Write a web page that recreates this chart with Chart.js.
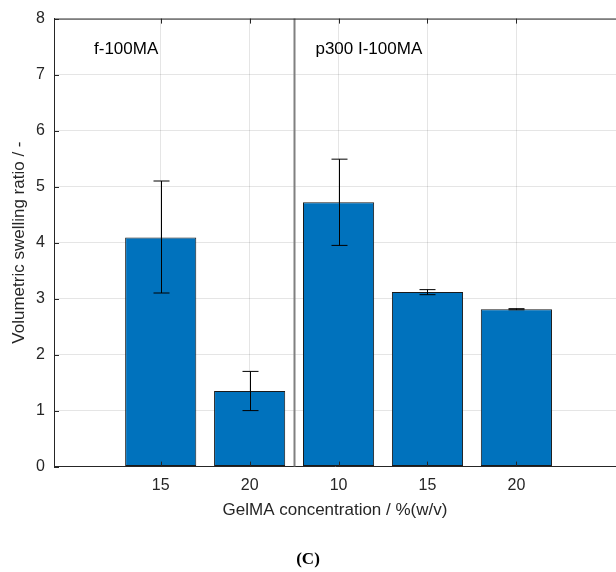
<!DOCTYPE html>
<html>
<head>
<meta charset="utf-8">
<script src="https://cdn.jsdelivr.net/npm/chart.js@4.4.1/dist/chart.umd.min.js"></script>
<style>
  html, body { margin: 0; padding: 0; background: #fff; }
  #wrap { width: 616px; height: 572px; }
</style>
</head>
<body>
<div id="wrap"><canvas id="swellChart"></canvas></div>
<script>
// categories (GelMA concentration) and their slot on the x axis
var concLabels = ['15', '20', '10', '15', '20'];
var barPos = [1, 2, 3, 4, 5];
// volumetric swelling ratio, mean and error bar ends
var swelling = [4.09, 1.35, 4.72, 3.12, 2.81];
var errLow = [3.10, 1.00, 3.95, 3.07, 2.80];
var errHigh = [5.10, 1.70, 5.49, 3.16, 2.82];
var yTicks = [0, 1, 2, 3, 4, 5, 6, 7, 8];
var groupNames = ['f-100MA', 'p300 I-100MA'];

var txtColor = '#262626';
var fontFam = '"Liberation Sans", Arial, Helvetica, sans-serif';

var extras = {
    id: 'extras',
    beforeDatasetsDraw: function (chart) {
        var ctx = chart.ctx, a = chart.chartArea;
        var xs = chart.scales.x;
        // group separator
        var sx = Math.round(xs.getPixelForValue(2.5)) + 0.5;
        ctx.save();
        ctx.strokeStyle = '#808080';
        ctx.lineWidth = 2;
        ctx.beginPath();
        ctx.moveTo(sx, a.top);
        ctx.lineTo(sx, a.bottom);
        ctx.stroke();
        ctx.restore();
    },
    afterDatasetsDraw: function (chart) {
        var ctx = chart.ctx, a = chart.chartArea;
        var xs = chart.scales.x, ys = chart.scales.y;
        ctx.save();
        // error bars
        ctx.strokeStyle = '#000';
        ctx.lineWidth = 1;
        barPos.forEach(function (p, i) {
            var x = Math.round(xs.getPixelForValue(p)) + 0.5;
            var y0 = ys.getPixelForValue(errLow[i]);
            var y1 = ys.getPixelForValue(errHigh[i]);
            ctx.beginPath();
            ctx.moveTo(x, y0); ctx.lineTo(x, y1);
            ctx.moveTo(x - 8, y0); ctx.lineTo(x + 8, y0);
            ctx.moveTo(x - 8, y1); ctx.lineTo(x + 8, y1);
            ctx.stroke();
        });
        // top box line and inward tick marks
        ctx.strokeStyle = txtColor;
        ctx.beginPath();
        ctx.moveTo(a.left, a.top + 0.5);
        ctx.lineTo(a.right, a.top + 0.5);
        barPos.forEach(function (p) {
            var x = Math.round(xs.getPixelForValue(p)) + 0.5;
            ctx.moveTo(x, a.top); ctx.lineTo(x, a.top + 5);
            ctx.moveTo(x, a.bottom); ctx.lineTo(x, a.bottom - 5);
        });
        yTicks.forEach(function (v) {
            var y = Math.round(ys.getPixelForValue(v)) + 0.5;
            ctx.moveTo(a.left, y); ctx.lineTo(a.left + 5, y);
        });
        ctx.stroke();
        // group labels
        ctx.fillStyle = '#000';
        ctx.font = '17px ' + fontFam;
        ctx.textBaseline = 'middle';
        ctx.textAlign = 'left';
        ctx.fillText(groupNames[0], xs.getPixelForValue(0.25), ys.getPixelForValue(7.45));
        ctx.fillText(groupNames[1], xs.getPixelForValue(2.74), ys.getPixelForValue(7.45));
        ctx.restore();
    }
};

new Chart(document.getElementById('swellChart').getContext('2d'), {
    type: 'bar',
    data: {
        datasets: [{
            data: barPos.map(function (p, i) { return { x: p, y: swelling[i] }; }),
            backgroundColor: '#0072BD',
            borderColor: '#1a1a1a',
            borderWidth: 1,
            borderSkipped: false,
            barPercentage: 0.8,
            categoryPercentage: 1
        }]
    },
    options: {
        responsive: true,
        maintainAspectRatio: false,
        animation: false,
        layout: { padding: { top: 17, left: 0, right: 0, bottom: 0 } },
        plugins: {
            legend: { display: false },
            tooltip: { enabled: false },
            title: {
                display: true,
                position: 'bottom',
                text: '(C)',
                color: '#000',
                font: { family: '"Liberation Serif", "Times New Roman", serif', size: 17, weight: 'bold' },
                padding: { top: 17, bottom: 2 }
            }
        },
        scales: {
            x: {
                type: 'linear',
                offset: false,
                min: -0.2,
                max: 6.12,
                afterBuildTicks: function (scale) {
                    scale.ticks = barPos.map(function (p) { return { value: p }; });
                },
                afterFit: function (scale) { scale.height = 66; },
                grid: { color: 'rgba(0,0,0,0.1)', drawTicks: false, offset: false },
                border: { color: txtColor, width: 1 },
                ticks: {
                    color: txtColor,
                    padding: 9,
                    autoSkip: false,
                    maxRotation: 0,
                    font: { family: fontFam, size: 16 },
                    callback: function (v, i) { return concLabels[i]; }
                },
                title: {
                    display: true,
                    text: 'GelMA concentration / %(w/v)',
                    color: txtColor,
                    font: { family: fontFam, size: 17 },
                    padding: { top: 0, bottom: 12 }
                }
            },
            y: {
                min: 0,
                max: 8,
                afterBuildTicks: function (scale) {
                    scale.ticks = yTicks.map(function (v) { return { value: v }; });
                },
                afterFit: function (scale) { scale.width = 54; },
                grid: { color: 'rgba(0,0,0,0.1)', drawTicks: false },
                border: { color: txtColor, width: 1 },
                ticks: {
                    color: txtColor,
                    padding: 9,
                    font: { family: fontFam, size: 16 }
                },
                title: {
                    display: true,
                    text: 'Volumetric swelling ratio / -',
                    color: txtColor,
                    font: { family: fontFam, size: 17 },
                    padding: { top: 9, bottom: 0 }
                }
            }
        }
    },
    plugins: [extras]
});
</script>
</body>
</html>
